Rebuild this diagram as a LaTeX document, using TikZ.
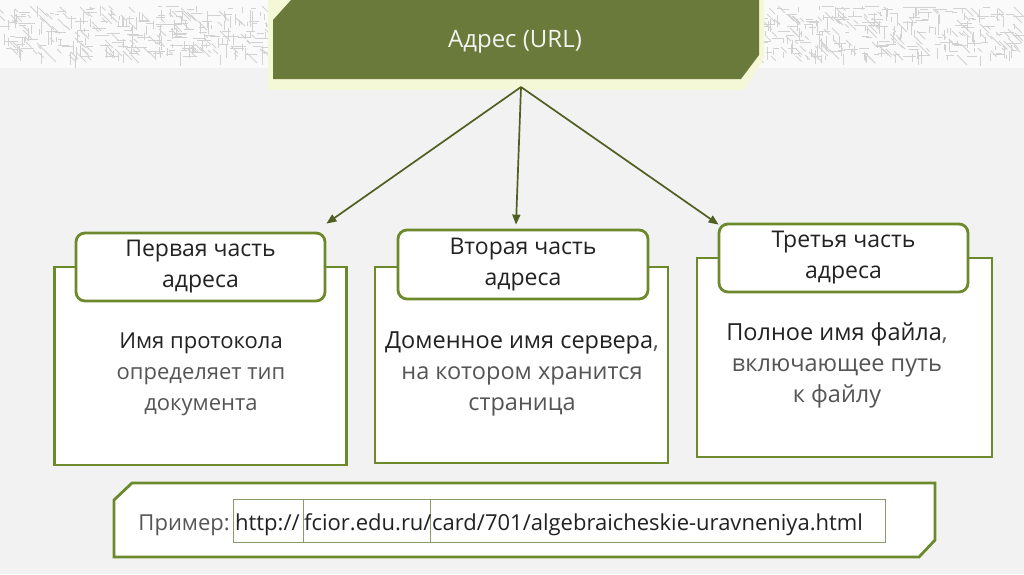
\documentclass[tikz,border=0pt]{standalone}
\usepackage{fontspec}
\setmainfont{Open Sans}
\usetikzlibrary{calc,arrows.meta}
\definecolor{bg}{HTML}{F2F2F2}
\definecolor{band}{HTML}{FAFAFA}
\definecolor{pat}{HTML}{D2D2D2}
\definecolor{banner}{HTML}{6A7A3A}
\definecolor{glow}{HTML}{F5F8D6}
\definecolor{bord}{HTML}{6C8A2C}
\definecolor{arrc}{HTML}{4F5F22}
\definecolor{urlc}{HTML}{8A9A6A}
\definecolor{dark}{HTML}{222222}
\definecolor{mid}{HTML}{555555}
\tikzset{
  outerbox/.style={draw=bord, line width=2.8pt, fill=white, inner sep=0pt},
  tabbox/.style={draw=bord, line width=2.8pt, fill=white, rounded corners=9pt, inner sep=0pt, align=center, text=dark, font=\fontsize{23}{31}\selectfont},
  body/.style={align=center, font=\fontsize{23.5}{31}\selectfont},
  bodysmall/.style={align=center, font=\fontsize{22}{31}\selectfont},
  arr/.style={draw=arrc, line width=1.7pt, -{Triangle[length=10pt,width=8pt]}},
  urltext/.style={anchor=base west, inner sep=0pt, text=dark, font=\fontsize{22}{25}\selectfont},
}
\begin{document}
\begin{tikzpicture}[x=1pt,y=-1pt]
\useasboundingbox (0,0) rectangle (1024,574);
\fill[bg] (0,0) rectangle (1024,574);
\fill[band] (0,0) rectangle (1024,68);
% circuit-like pattern in top band
\pgfmathsetseed{7}
\foreach \i in {1,...,1400}{
  \pgfmathsetmacro{\xx}{random(0,1016)}
  \pgfmathsetmacro{\yy}{random(6,56)}
  \pgfmathsetmacro{\ll}{random(4,14)}
  \pgfmathsetmacro{\dd}{random(0,2)}
  \ifnum\dd=0
    \draw[pat, line width=0.8pt] (\xx,\yy) -- ++(0,\ll);
  \else\ifnum\dd=1
    \draw[pat, line width=0.8pt] (\xx,\yy) -- ++(\ll,0);
  \else
    \draw[pat, line width=0.8pt] (\xx,\yy) -- ++(\ll*0.7,\ll*0.7);
  \fi\fi
}
% banner
\fill[glow] (268,0) -- (764,0) -- (764,58) -- (744,90) -- (268,90) -- cycle;
\fill[banner] (273,20) -- (291,0) -- (759,0) -- (759,55) -- (741,79) -- (273,79) -- cycle;
\node[text=white!92!banner, font=\fontsize{24}{28}\selectfont] (title) at (515,42) {Адрес (URL)};
\coordinate (src) at (521,87);

% box 1
\node[outerbox, minimum width=292pt, minimum height=198pt] (b1) at (200.5,366) {};
\node[tabbox, minimum width=249pt, minimum height=68pt] (t1) at (200.5,267) {Первая часть\\адреса};
\node[bodysmall] (d1) at (201,374) {\textcolor{dark}{Имя протокола}\\\textcolor{mid}{определяет тип}\\\textcolor{mid}{документа}};

% box 2
\node[outerbox, minimum width=293pt, minimum height=196pt] (b2) at (521.5,365) {};
\node[tabbox, minimum width=250pt, minimum height=69pt] (t2) at (523,264.5) {Вторая часть\\адреса};
\node[body] (d2) at (522,374) {\textcolor{dark}{Доменное имя сервера}\textcolor{mid}{,}\\\textcolor{mid}{на котором хранится}\\\textcolor{mid}{страница}};

% box 3
\node[outerbox, minimum width=295pt, minimum height=199pt] (b3) at (844.5,357.5) {};
\node[tabbox, minimum width=249pt, minimum height=68pt] (t3) at (843.5,258) {Третья часть\\адреса};
\node[body] (d3) at (837,365) {\textcolor{dark}{Полное имя файла}\textcolor{mid}{,}\\\textcolor{mid}{включающее путь}\\\textcolor{mid}{к файлу}};

% arrows
\draw[arr] (src) -- ([yshift=8pt]t1.north east);
\draw[arr] (src) -- ([yshift=4pt,xshift=-7pt]t2.north);
\draw[arr] (src) -- ([yshift=-2pt,xshift=1pt]t3.north west);

% example box
\coordinate (e1) at (114,500);
\coordinate (e2) at (132,483);
\coordinate (e3) at (935,483);
\coordinate (e4) at (935,540);
\coordinate (e5) at (919,557);
\coordinate (e6) at (114,557);
\draw[draw=bord, line width=2.8pt, fill=white] (e1) -- (e2) -- (e3) -- (e4) -- (e5) -- (e6) -- cycle;
\draw[urlc, line width=0.9pt] (233,499) rectangle (885,542);
\draw[urlc, line width=0.9pt] (303,499) -- (303,542);
\draw[urlc, line width=0.9pt] (430,499) -- (430,542);
\node[urltext, text=mid, anchor=base east] (ex) at (230,530) {Пример:};
\node[urltext] (u1) at (235,530) {http://};
\node[urltext] (u2) at (304,530) {fcior.edu.ru/};
\node[urltext] (u3) at (432,530) {card/701/algebraicheskie-uravneniya.html};
\end{tikzpicture}
\end{document}
